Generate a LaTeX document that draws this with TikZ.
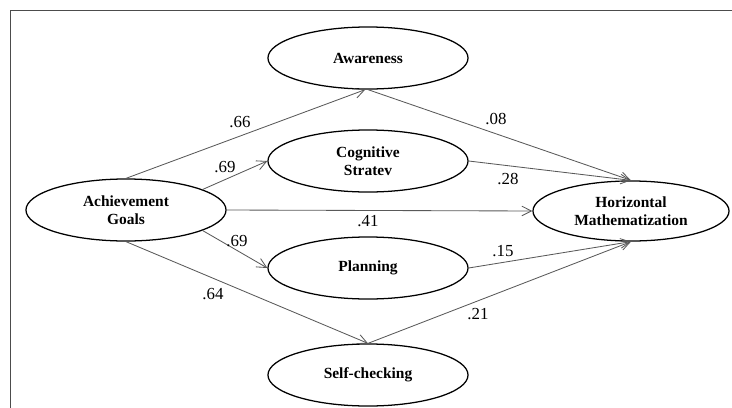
\documentclass[tikz,border=0pt]{standalone}
\usepackage{fontspec}
\setmainfont{Liberation Serif}
\usetikzlibrary{shapes.geometric, arrows.meta}

\begin{document}
\begin{tikzpicture}[x=0.025cm, y=-0.025cm,
    latent/.style={ellipse, draw, line width=0.9pt, minimum width=5cm, minimum height=1.55cm,
        inner sep=0pt, align=center, font=\fontsize{11}{12.5}\selectfont\bfseries},
    path/.style={-{Straight Barb[length=2.4mm, width=2.4mm]}, draw=black!65, line width=0.6pt},
    coef/.style={font=\fontsize{12}{14}\selectfont, inner sep=1pt}]
            \useasboundingbox (0,0) rectangle (732,408);

            % Frame
            \draw[black!70, line width=1.3pt] (10.5,408) -- (10.5,10.5) -- (732,10.5);

            % Nodes
            \node[latent] (AG) at (126,210) {Achievement\\Goals};
            \node[latent] (AW) at (368,58) {Awareness};
            \node[latent] (CS) at (368,161) {Cognitive\\Stratev};
            \node[latent] (PL) at (368,268) {Planning};
            \node[latent] (SC) at (368,375) {Self-checking};
            \node[latent, minimum width=4.9cm, minimum height=1.5cm] (HM) at (631,211) {Horizontal\\Mathematization};

            % Arrows
            \draw[path] (AG.north) -- (AW.265);
            \draw[path] (AG.15) -- (CS.west);
            \draw[path] (AG.east) -- (HM.west);
            \draw[path] (AG.-15) -- (PL.west);
            \draw[path] (AG.south) -- (SC.north);

            \draw[path] (AW.south) -- (HM.north);
            \draw[path] (CS.east) -- (HM.north);
            \draw[path] (PL.east) -- (HM.south);
            \draw[path] (SC.north) -- (HM.south);

            % Coefficients
            \node[coef] (cAGAW) at (240,122) {.66};
            \node[coef] (cAGCS) at (225,167) {.69};
            \node[coef] (cAGHM) at (368,221) {.41};
            \node[coef] (cAGPL) at (237,241) {.69};
            \node[coef] (cAGSC) at (213,294) {.64};
            \node[coef] (cAWHM) at (496,119) {.08};
            \node[coef] (cCSHM) at (508,179) {.28};
            \node[coef] (cPLHM) at (503,251) {.15};
            \node[coef] (cSCHM) at (478,314) {.21};
\end{tikzpicture}
\end{document}
